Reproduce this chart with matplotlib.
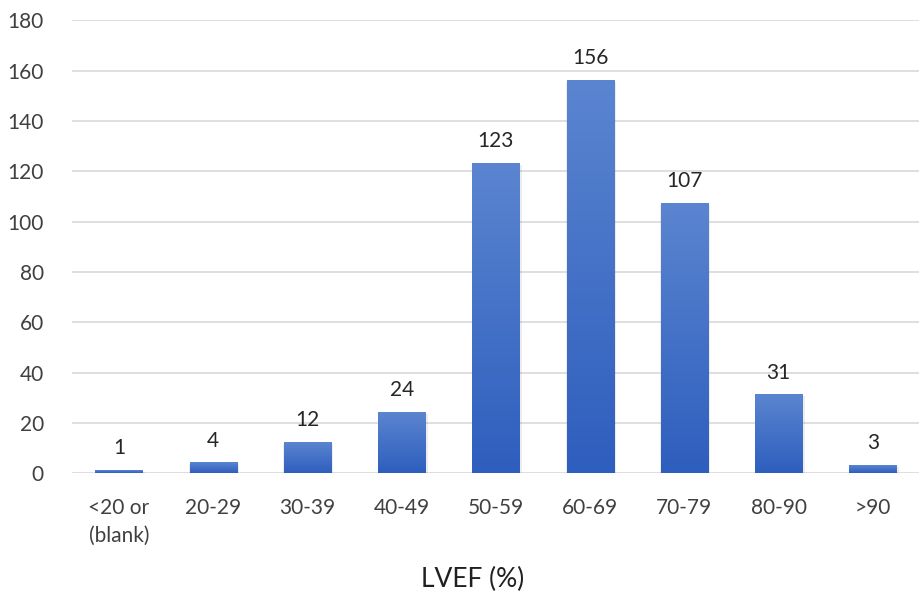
import matplotlib.pyplot as plt
import numpy as np
from matplotlib.colors import LinearSegmentedColormap

plt.rcParams['font.family'] = ['Lato', 'DejaVu Sans']

categories = ['<20 or\n(blank)', '20-29', '30-39', '40-49', '50-59',
              '60-69', '70-79', '80-90', '>90']
counts = [1, 4, 12, 24, 123, 156, 107, 31, 3]
yticks = [0, 20, 40, 60, 80, 100, 120, 140, 160, 180]

text_color = '#404040'
grad = LinearSegmentedColormap.from_list('bar', ['#2e5ebe', '#5b85d0'])

fig = plt.figure(figsize=(9.2, 5.96), dpi=100)
ax = fig.add_axes([0.078, 0.206, 0.922, 0.76])

x = np.arange(len(categories))
bars = ax.bar(x, counts, width=0.5, color='none', zorder=3)

# vertical gradient fill for each bar, plus a faint shadow
g = np.linspace(0, 1, 256).reshape(-1, 1)
for b in bars:
    x0, y0 = b.get_x(), b.get_y()
    w, h = b.get_width(), b.get_height()
    ax.bar(x0 + w / 2 + 0.01, h, width=w + 0.03, bottom=y0 - 0.4,
           color='#000000', alpha=0.07, zorder=2, linewidth=0)
    ax.imshow(g, cmap=grad, origin='lower', aspect='auto',
              extent=(x0, x0 + w, y0, y0 + h), zorder=3)

for xi, v in zip(x, counts):
    ax.text(xi, v + 5, str(v), ha='center', va='bottom',
            fontsize=15, color='#262626')

ax.set_xlim(-0.5, len(categories) - 0.5)
ax.set_ylim(0, 180)
ax.set_yticks(yticks)
ax.set_xticks(x)
ax.set_xticklabels(categories)
ax.grid(axis='y', color='#d9d9d9', linewidth=1.2, zorder=0)
ax.set_axisbelow(True)
for s in ax.spines.values():
    s.set_visible(False)
ax.tick_params(axis='both', length=0, labelsize=15, labelcolor=text_color)
ax.tick_params(axis='y', pad=20)
ax.tick_params(axis='x', pad=18)
for lbl in ax.get_xticklabels():
    lbl.set_verticalalignment('top')
    lbl.set_linespacing(1.45)

fig.text(0.514, 0.028, 'LVEF (%)', ha='center', va='center',
         fontsize=19, color='#202020')

fig.savefig('out.png', dpi=100)
